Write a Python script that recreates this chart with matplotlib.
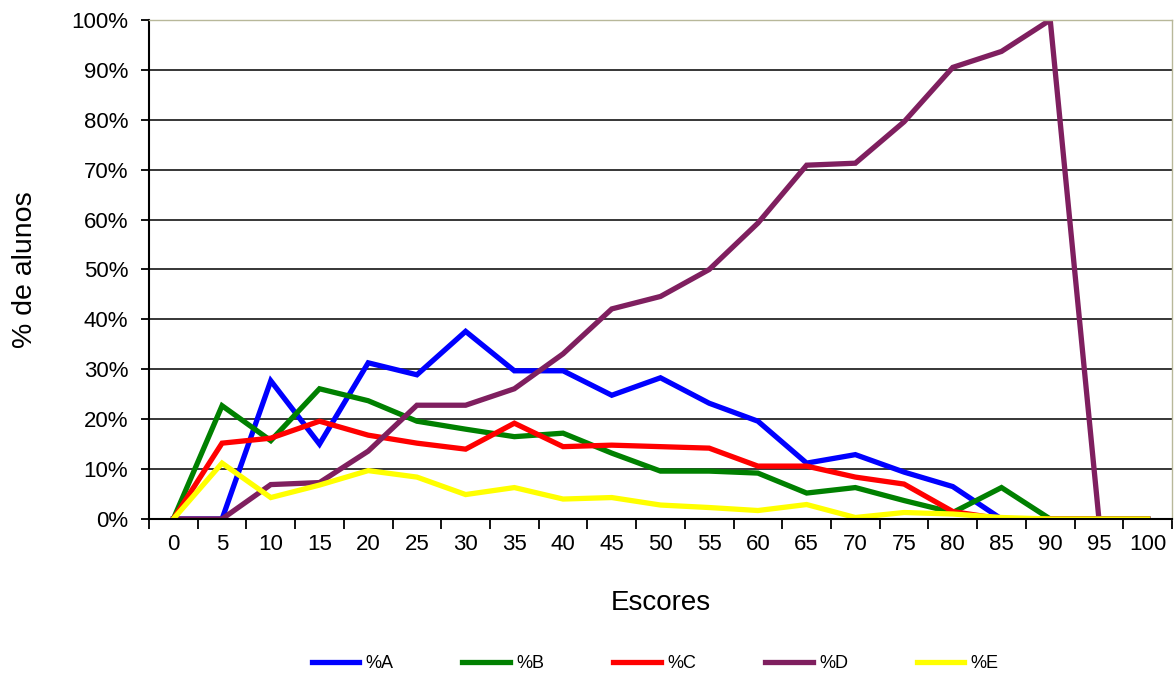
import numpy as np
import matplotlib
matplotlib.use('Agg')
import matplotlib.pyplot as plt
from matplotlib.ticker import FixedLocator, FuncFormatter

plt.rcParams['font.family'] = ['Liberation Sans', 'DejaVu Sans']

# Data
escores = [0, 5, 10, 15, 20, 25, 30, 35, 40, 45, 50, 55, 60, 65, 70, 75, 80, 85, 90, 95, 100]
pct_a = [0, 0, 27.7, 15.0, 31.3, 28.9, 37.6, 29.7, 29.7, 24.8, 28.3, 23.2, 19.6, 11.2, 12.9, 9.4, 6.5, 0, 0, 0, 0]
pct_b = [0, 22.7, 15.7, 26.1, 23.7, 19.6, 18.0, 16.5, 17.2, 13.2, 9.6, 9.6, 9.2, 5.2, 6.3, 3.7, 1.3, 6.3, 0, 0, 0]
pct_c = [0, 15.2, 16.2, 19.6, 16.8, 15.2, 14.0, 19.2, 14.5, 14.8, 14.5, 14.2, 10.6, 10.6, 8.4, 7.0, 1.5, 0, 0, 0, 0]
pct_d = [0, 0, 6.9, 7.3, 13.6, 22.8, 22.8, 26.1, 33.1, 42.1, 44.6, 50.0, 59.3, 70.9, 71.3, 79.6, 90.5, 93.7, 100, 0, 0]
pct_e = [0, 11.2, 4.3, 6.8, 9.7, 8.4, 4.9, 6.3, 4.0, 4.3, 2.8, 2.3, 1.7, 2.9, 0.3, 1.3, 1.0, 0.3, 0, 0, 0]

series = [('%A', pct_a, '#0000FF'),
          ('%B', pct_b, '#008000'),
          ('%C', pct_c, '#FF0000'),
          ('%D', pct_d, '#7F1F5F'),
          ('%E', pct_e, '#FFFF00')]

fig = plt.figure(figsize=(11.74, 6.75), dpi=100)
ax = fig.add_axes([0.1269, 0.2311, 0.8714, 0.7393])

x = np.arange(len(escores))
for label, vals, color in series:
    ax.plot(x, vals, color=color, lw=3.8, label=label, solid_joinstyle='miter')

ax.set_xlim(-0.5, len(escores) - 0.5)
ax.set_ylim(0, 100)

# Category axis: ticks between categories, labels at the centres
ax.xaxis.set_major_locator(FixedLocator(np.arange(-0.5, len(escores), 1.0)))
ax.xaxis.set_major_formatter(FuncFormatter(lambda v, p: ''))
ax.xaxis.set_minor_locator(FixedLocator(x))
ax.set_xticklabels([str(e) for e in escores], minor=True)
ax.tick_params(axis='x', which='major', direction='out', length=7, width=1.3, color='black')
ax.tick_params(axis='x', which='minor', length=0, pad=11, labelsize=16)

ax.set_yticks(np.arange(0, 101, 10))
ax.yaxis.set_major_formatter(FuncFormatter(lambda v, p: f'{int(v)}%'))
ax.tick_params(axis='y', direction='out', length=6, width=1.3, labelsize=16, pad=9)

ax.grid(axis='y', color='black', lw=1.1)
ax.set_axisbelow(True)

ax.spines['left'].set_color('black')
ax.spines['left'].set_linewidth(1.5)
ax.spines['bottom'].set_color('black')
ax.spines['bottom'].set_linewidth(1.5)
for s in ['top', 'right']:
    ax.spines[s].set_color('#b8b89a')
    ax.spines[s].set_linewidth(1.0)

ax.set_xlabel('Escores', fontsize=20, labelpad=25)
ax.set_ylabel('% de alunos', fontsize=20.5, labelpad=24)

fig.legend(loc='center', bbox_to_anchor=(0.558, 1 - 664 / 675), ncol=5, frameon=False,
           fontsize=13, handlelength=2.65, handletextpad=0.35, columnspacing=3.8)

fig.savefig('out.png', dpi=100)
